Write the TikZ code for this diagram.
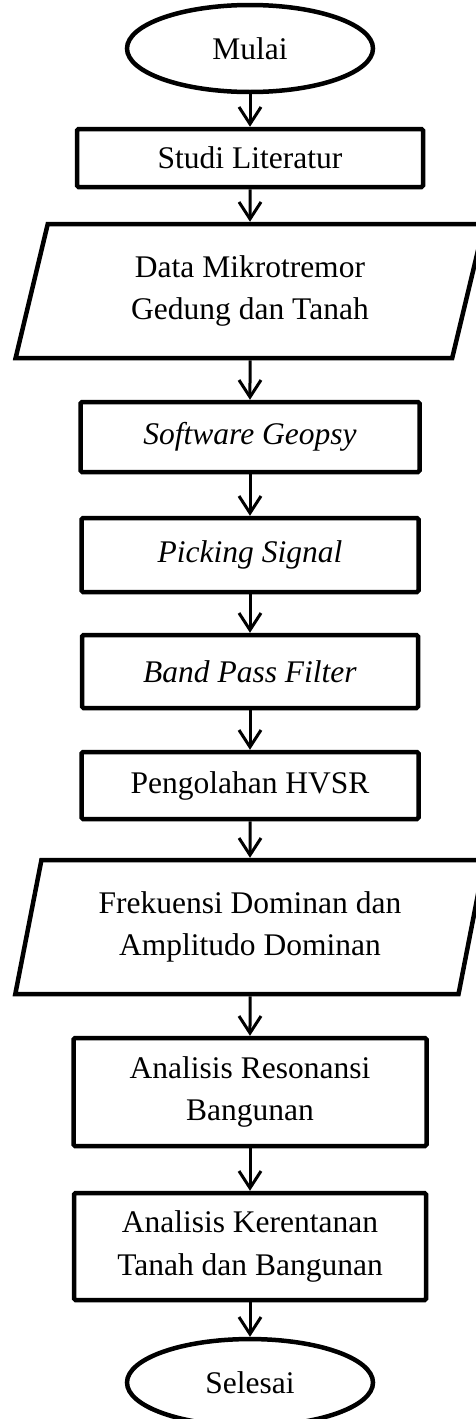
\documentclass[tikz,border=0pt]{standalone}
\usepackage{fontspec}
\setmainfont{Liberation Serif}
\usetikzlibrary{positioning, shapes.geometric, arrows.meta}

\begin{document}
\begin{tikzpicture}[node distance=40pt,
	font=\fontsize{31.5}{42.5}\selectfont,
	>={Straight Barb[length=17pt,width=22pt]},
	terminal/.style={draw, ellipse, line width=4.5pt, minimum width=246pt, minimum height=87pt, inner sep=0pt},
	process/.style={draw, rectangle, line width=4.5pt, rounded corners=1.5pt, align=center},
	io/.style={draw, trapezium, trapezium left angle=76, trapezium right angle=104, trapezium stretches=true, line width=4.5pt, minimum width=470pt, minimum height=134pt, align=center},
	flow/.style={->, line width=3pt}]
			\useasboundingbox (0,0) rectangle (475pt,-1419pt);
			\node[terminal]  (mulai)  at (250pt,-48.5pt)  {Mulai};
			\node[process, minimum width=346pt, minimum height=58pt, below=32.5pt of mulai]  (studi)  {Studi Literatur};
			\node[io, below=32.5pt of studi]  (data)  {Data Mikrotremor\\Gedung dan Tanah};
			\node[process, minimum width=339pt, minimum height=70pt, below=39.5pt of data]  (geopsy)  {\textit{Software Geopsy}};
			\node[process, minimum width=337pt, minimum height=74pt, below=41.5pt of geopsy]  (picking)  {\textit{Picking Signal}};
			\node[process, minimum width=336pt, minimum height=73pt, below=38.5pt of picking]  (bpf)  {\textit{Band Pass Filter}};
			\node[process, minimum width=337pt, minimum height=67pt, below=39.5pt of bpf]  (hvsr)  {Pengolahan HVSR};
			\node[io, below=36.5pt of hvsr]  (frek)  {Frekuensi Dominan dan\\Amplitudo Dominan};
			\node[process, minimum width=353pt, minimum height=108pt, below=39.5pt of frek]  (resonansi)  {Analisis Resonansi\\Bangunan};
			\node[process, minimum width=352pt, minimum height=107pt, below=42.5pt of resonansi]  (kerentanan)  {Analisis Kerentanan\\Tanah dan Bangunan};
			\node[terminal, below=34.5pt of kerentanan]  (selesai)  {Selesai};

			\draw[flow] (mulai) -- (studi) ;
			\draw[flow] (studi) -- (data) ;
			\draw[flow] (data) -- (geopsy) ;
			\draw[flow] (geopsy) -- (picking) ;
			\draw[flow] (picking) -- (bpf) ;
			\draw[flow] (bpf) -- (hvsr) ;
			\draw[flow] (hvsr) -- (frek) ;
			\draw[flow] (frek) -- (resonansi) ;
			\draw[flow] (resonansi) -- (kerentanan) ;
			\draw[flow] (kerentanan) -- (selesai) ;
		\end{tikzpicture}
\end{document}
